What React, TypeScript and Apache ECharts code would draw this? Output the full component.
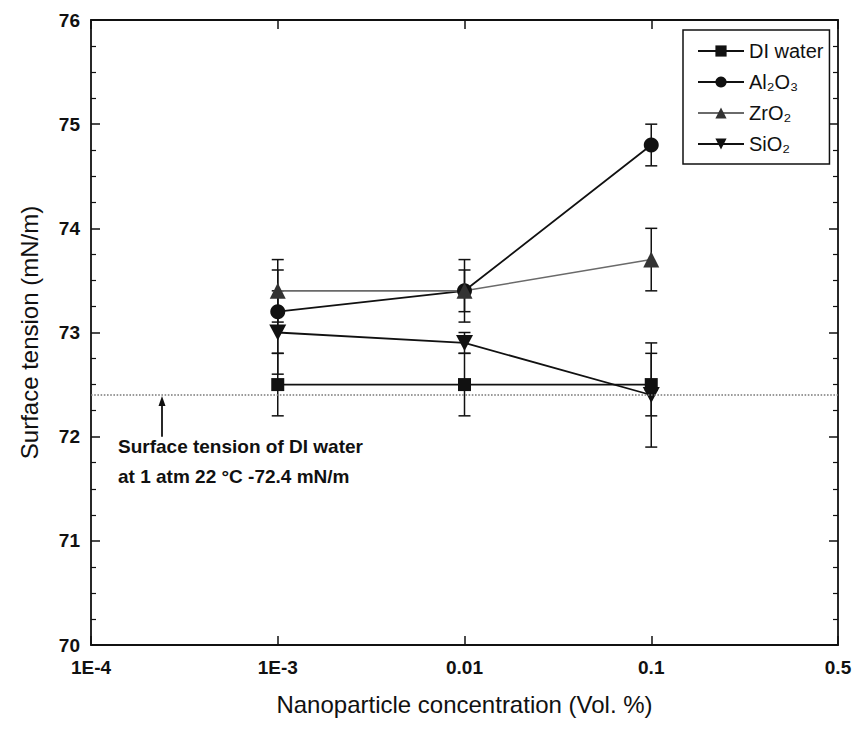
import React, { useEffect, useRef } from "react";
import * as echarts from "echarts";

const FONT = "'Liberation Sans', Arial, sans-serif";

// X categories (tick labels of the concentration axis)
const categories = ["1E-4", "1E-3", "0.01", "0.1", "0.5"];
// Measured concentrations
const concentrations = ["1E-3", "0.01", "0.1"];

const seriesNames = ["DI water", "Al\u2082O\u2083", "ZrO\u2082", "SiO\u2082"];

const diWater = [72.5, 72.5, 72.5];
const diWaterErr = [0.3, 0.3, 0.3];
const al2o3 = [73.2, 73.4, 74.8];
const al2o3Err = [0.4, 0.3, 0.2];
const zro2 = [73.4, 73.4, 73.7];
const zro2Err = [0.3, 0.2, 0.3];
const sio2 = [73.0, 72.9, 72.4];
const sio2Err = [0.4, 0.1, 0.5];

const diWaterRef = 72.4;

const yTicks = { min: 70, max: 76, interval: 1 };

const DOWN_TRI = "path://M0,0 L10,0 L5,9 Z";

function lineData(vals: number[]) {
  return concentrations.map((c, i) => [c, vals[i]]);
}
function errData(vals: number[], errs: number[]) {
  return concentrations.map((c, i) => [
    categories.indexOf(c),
    vals[i] - errs[i],
    vals[i] + errs[i],
  ]);
}

export default function App() {
  const ref = useRef<HTMLDivElement>(null);
  useEffect(() => {
    document.body.style.margin = "0";
    if (!ref.current) return;
    const chart = echarts.init(ref.current, null, { renderer: "svg" });

    const errorSeries = (vals: number[], errs: number[]) => ({
      type: "custom",
      silent: true,
      z: 1,
      renderItem: (_p: any, api: any) => {
        const x = api.value(0);
        const lo = api.coord([x, api.value(1)]);
        const hi = api.coord([x, api.value(2)]);
        const hw = 6;
        const st = { stroke: "#111", lineWidth: 1.5 };
        return {
          type: "group",
          children: [
            { type: "line", shape: { x1: lo[0], y1: lo[1], x2: hi[0], y2: hi[1] }, style: st },
            { type: "line", shape: { x1: lo[0] - hw, y1: lo[1], x2: lo[0] + hw, y2: lo[1] }, style: st },
            { type: "line", shape: { x1: hi[0] - hw, y1: hi[1], x2: hi[0] + hw, y2: hi[1] }, style: st },
          ],
        };
      },
      encode: { x: 0, y: [1, 2] },
      data: errData(vals, errs),
    });

    const axisLine = { show: true, lineStyle: { color: "#111", width: 1.8 } };

    chart.setOption({
      animation: false,
      backgroundColor: "#fff",
      grid: { left: 91, right: 18, top: 20, bottom: 84 },
      legend: {
        orient: "vertical",
        left: 683,
        top: 30,
        data: seriesNames,
        itemWidth: 46,
        itemHeight: 14,
        itemGap: 11,
        padding: [11, 6, 10, 14],
        borderColor: "#111",
        borderWidth: 1.5,
        textStyle: { fontSize: 20, color: "#111", fontFamily: FONT },
      },
      xAxis: [
        {
          type: "category",
          data: categories,
          boundaryGap: false,
          axisLine,
          axisTick: { show: true, inside: true, length: 9, lineStyle: { color: "#111", width: 1.5 } },
          axisLabel: { fontSize: 19, color: "#111", fontWeight: "bold", fontFamily: FONT, margin: 13 },
          splitLine: { show: false },
          name: "Nanoparticle concentration (Vol. %)",
          nameLocation: "middle",
          nameGap: 47,
          nameTextStyle: { fontSize: 24, color: "#111", fontFamily: FONT },
        },
        {
          type: "category",
          data: categories,
          boundaryGap: false,
          position: "top",
          axisLine,
          axisTick: { show: true, inside: true, length: 9, lineStyle: { color: "#111", width: 1.5 } },
          axisLabel: { show: false },
          splitLine: { show: false },
        },
      ],
      yAxis: [
        {
          type: "value",
          min: yTicks.min,
          max: yTicks.max,
          interval: yTicks.interval,
          axisLine,
          axisTick: { show: true, inside: true, length: 9, lineStyle: { color: "#111", width: 1.5 } },
          minorTick: { show: true, splitNumber: 4, length: 5, lineStyle: { color: "#111", width: 1.2 } },
          axisLabel: { fontSize: 19, color: "#111", fontWeight: "bold", fontFamily: FONT, margin: 11 },
          splitLine: { show: false },
          name: "Surface tension (mN/m)",
          nameLocation: "middle",
          nameGap: 50,
          nameTextStyle: { fontSize: 24, color: "#111", fontFamily: FONT },
        },
        {
          type: "value",
          min: yTicks.min,
          max: yTicks.max,
          interval: yTicks.interval,
          position: "right",
          axisLine,
          axisTick: { show: true, inside: true, length: 9, lineStyle: { color: "#111", width: 1.5 } },
          minorTick: { show: true, splitNumber: 4, length: 5, lineStyle: { color: "#111", width: 1.2 } },
          axisLabel: { show: false },
          splitLine: { show: false },
        },
      ],
      series: [
        {
          name: seriesNames[0],
          type: "line",
          data: lineData(diWater),
          symbol: "rect",
          symbolSize: 13,
          itemStyle: { color: "#111" },
          lineStyle: { color: "#111", width: 1.8 },
          z: 3,
          markLine: {
            silent: true,
            symbol: "none",
            label: { show: false },
            lineStyle: { color: "#7a7a7a", type: "dotted", width: 1.6 },
            data: [{ yAxis: diWaterRef }],
          },
        },
        {
          name: seriesNames[1],
          type: "line",
          data: lineData(al2o3),
          symbol: "circle",
          symbolSize: 15,
          itemStyle: { color: "#111" },
          lineStyle: { color: "#111", width: 1.8 },
          z: 3,
        },
        {
          name: seriesNames[2],
          type: "line",
          data: lineData(zro2),
          symbol: "triangle",
          symbolSize: 16,
          itemStyle: { color: "#333" },
          lineStyle: { color: "#6a6a6a", width: 1.6 },
          z: 3,
        },
        {
          name: seriesNames[3],
          type: "line",
          data: lineData(sio2),
          symbol: DOWN_TRI,
          symbolSize: [17, 16],
          itemStyle: { color: "#111" },
          lineStyle: { color: "#111", width: 1.8 },
          z: 3,
        },
        errorSeries(diWater, diWaterErr),
        errorSeries(al2o3, al2o3Err),
        errorSeries(zro2, zro2Err),
        errorSeries(sio2, sio2Err),
      ],
    });

    // annotation: arrow pointing to the DI water reference line, plus text
    const tipY = chart.convertToPixel({ yAxisIndex: 0 }, diWaterRef) as number;
    const tailY = chart.convertToPixel({ yAxisIndex: 0 }, 72.0) as number;
    const ax = 162;
    chart.setOption({
      graphic: [
        {
          type: "line",
          shape: { x1: ax, y1: tailY, x2: ax, y2: tipY + 6 },
          style: { stroke: "#111", lineWidth: 1.8 },
        },
        {
          type: "polygon",
          shape: { points: [[ax, tipY + 1], [ax - 3.5, tipY + 11], [ax + 3.5, tipY + 11]] },
          style: { fill: "#111" },
        },
        {
          type: "text",
          left: 118,
          top: 437,
          style: {
            text: "Surface tension of DI water",
            font: `bold 19px ${FONT}`,
            fill: "#111",
          },
        },
        {
          type: "text",
          left: 118,
          top: 467,
          style: {
            text: "at 1 atm 22 \u00B0C -72.4 mN/m",
            font: `bold 19px ${FONT}`,
            fill: "#111",
          },
        },
      ],
    });

    return () => chart.dispose();
  }, []);
  return <div ref={ref} style={{ width: 856, height: 729 }} />;
}
